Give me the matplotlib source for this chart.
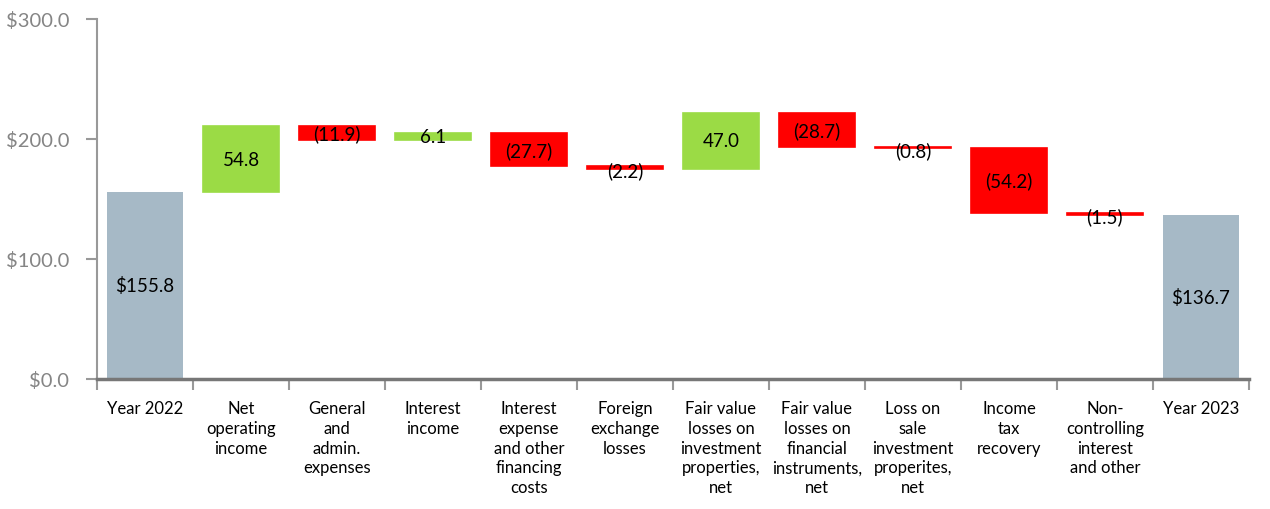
import numpy as np
import matplotlib.pyplot as plt

# data
categories = ['Year 2022', 'Net\noperating\nincome', 'General\nand\nadmin.\nexpenses',
              'Interest\nincome', 'Interest\nexpense\nand other\nfinancing\ncosts',
              'Foreign\nexchange\nlosses', 'Fair value\nlosses on\ninvestment\nproperties,\nnet',
              'Fair value\nlosses on\nfinancial\ninstruments,\nnet', 'Loss on\nsale\ninvestment\nproperites,\nnet',
              'Income\ntax\nrecovery', 'Non-\ncontrolling\ninterest\nand other', 'Year 2023']
start_total = 155.8
changes = [54.8, -11.9, 6.1, -27.7, -2.2, 47.0, -28.7, -0.8, -54.2, -1.5]
end_total = 136.7

c_total = '#a6b9c6'
c_up = '#9bdb45'
c_down = '#ff0000'

plt.rcParams['font.family'] = ['Lato', 'DejaVu Sans']

fig = plt.figure(figsize=(12.7, 5.1), dpi=100)
ax = fig.add_axes([0.0764, 0.255, 0.907, 0.706])

x = np.arange(len(categories))
w = 0.8

# totals
ax.bar(x[0], start_total, width=w, color=c_total)
ax.text(x[0], start_total / 2, '$%.1f' % start_total, ha='center', va='center', fontsize=13.5)
ax.bar(x[-1], end_total, width=w, color=c_total)
ax.text(x[-1], end_total / 2, '$%.1f' % end_total, ha='center', va='center', fontsize=13.5)

level = start_total
for i, v in enumerate(changes):
    col = c_up if v > 0 else c_down
    ax.bar(x[i + 1], v, bottom=level, width=w, color=col, edgecolor=col, linewidth=1.2)
    lab = '%.1f' % v if v > 0 else '(%.1f)' % -v
    mid = level + v / 2
    if abs(v) < 3:
        mid -= 2
    ax.text(x[i + 1], mid, lab, ha='center', va='center', fontsize=13.5)
    level += v

ax.set_xlim(-0.5, len(categories) - 0.5)
ax.set_ylim(0, 300)
ax.set_yticks([0, 100, 200, 300])
ax.set_yticklabels(['$%.1f' % t for t in [0, 100, 200, 300]], color='#858585', fontsize=14.5)
ax.tick_params(axis='y', length=8, width=1.5, color='#999999', pad=12)

ax.set_xticks(x)
ax.set_xticklabels(categories, fontsize=12, linespacing=1.3, va='top')
ax.set_xticks(np.arange(-0.5, len(categories), 1), minor=True)
ax.tick_params(axis='x', which='major', length=0, pad=15)
ax.tick_params(axis='x', which='minor', length=8, width=1.5, color='#999999')

for s in ['top', 'right']:
    ax.spines[s].set_visible(False)
ax.spines['left'].set_color('#999999')
ax.spines['left'].set_linewidth(1.5)
ax.spines['bottom'].set_color('#777777')
ax.spines['bottom'].set_linewidth(2.5)

fig.savefig('out.png', dpi=100)
